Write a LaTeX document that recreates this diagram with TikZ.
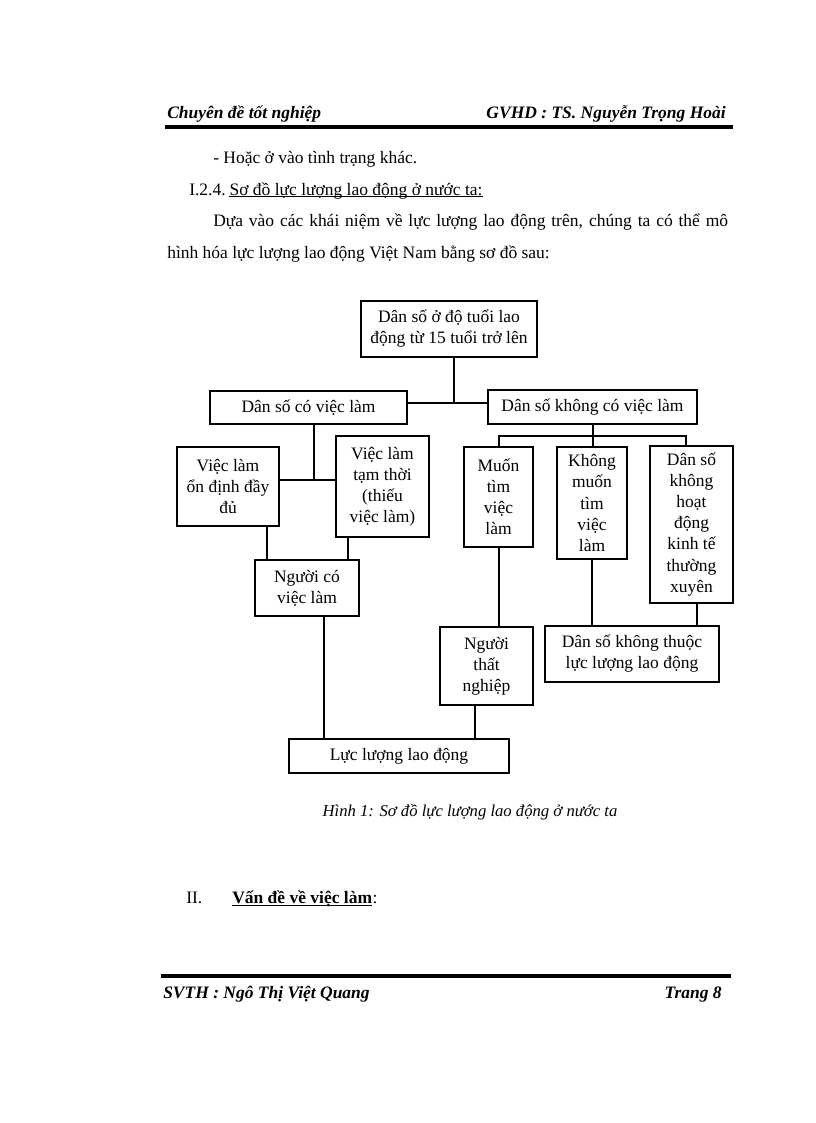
\documentclass[tikz,border=0pt]{standalone}
\usepackage{fontspec}
\setmainfont{Liberation Serif}
\def\pu{0.25735mm}
\begin{document}
\begin{tikzpicture}
[
x=0.25735mm, y=-0.25735mm,
every node/.style={inner sep=0pt},
box/.style={rectangle, draw, line width=0.4mm, align=center, font=\fontsize{12.8}{15.4}\selectfont},
link/.style={line width=0.4mm},
txt/.style={anchor=base west, font=\fontsize{12.8}{15.4}\selectfont},
rule/.style={line width=0.9mm}
]
\useasboundingbox[fill=white] (0,0) rectangle (816,1123);

%Page
\node[txt, font=\fontsize{12.8}{15.4}\selectfont\bfseries\itshape] (hd_left) at (167,119) {Chuyên đề tốt nghiệp};
\node[txt, anchor=base east, font=\fontsize{12.8}{15.4}\selectfont\bfseries\itshape] (hd_right) at (726,119) {GVHD : TS. Nguyễn Trọng Hoài};
\draw[rule] (165,127) -- (733,127);
\node[txt] (line_a) at (213,163) {- Hoặc ở vào tình trạng khác.};
\node[txt] (sec_no) at (189,195) {I.2.4.};
\node[txt] (sec_title) at ([xshift=0.25em]sec_no.base east) {Sơ đồ lực lượng lao động ở nước ta:};
\draw[line width=0.25mm] ([yshift=-0.5mm]sec_title.base west) -- ([yshift=-0.5mm]sec_title.base east);
\node[txt] (line_b) at (213,226) {\makebox[132.5mm][s]{Dựa vào các khái niệm về lực lượng lao động trên, chúng ta có thể mô}};
\node[txt] (line_c) at (167,258) {hình hóa lực lượng lao động Việt Nam bằng sơ đồ sau:};

%Nodes
\node[box, minimum width=176*\pu, minimum height=56*\pu] (dan_so)      at (449,329)   {Dân số ở độ tuổi lao\\động từ 15 tuổi trở lên};
\node[box, minimum width=197*\pu, minimum height=33*\pu] (co_vl)       at (308.5,407.5) {Dân số có việc làm};
\node[box, minimum width=209*\pu, minimum height=34*\pu] (khong_vl)    at (592.5,407) {Dân số không có việc làm};
\node[box, minimum width=102*\pu, minimum height=79*\pu] (on_dinh)     at (228,486.5) {Việc làm\\ổn định đầy\\đủ};
\node[box, minimum width=93*\pu,  minimum height=101*\pu] (tam_thoi)   at (382.5,486.5) {Việc làm\\tạm thời\\(thiếu\\việc làm)};
\node[box, minimum width=104*\pu, minimum height=56*\pu] (nguoi_co_vl) at (307,588)   {Người có\\việc làm};
\node[box, minimum width=69*\pu,  minimum height=100*\pu] (muon_tim)   at (498.5,497) {Muốn\\tìm\\việc\\làm};
\node[box, minimum width=70*\pu,  minimum height=112*\pu] (khong_muon) at (592,503)   {Không\\muốn\\tìm\\việc\\làm};
\node[box, minimum width=83*\pu,  minimum height=157*\pu] (khong_hd)   at (691.5,524.5) {Dân số\\không\\hoạt\\động\\kinh tế\\thường\\xuyên};
\node[box, minimum width=93*\pu,  minimum height=78*\pu] (that_nghiep) at (486.5,666) {Người\\thất\\nghiệp};
\node[box, minimum width=174*\pu, minimum height=56*\pu] (ngoai_lld)   at (632,654)   {Dân số không thuộc\\lực lượng lao động};
\node[box, minimum width=220*\pu, minimum height=34*\pu] (luc_luong)   at (399,756)   {Lực lượng lao động};

%Junctions
\coordinate (j_top)    at (454,403);
\coordinate (j_co)     at (314,480);
\coordinate (j_khong)  at (593,436);
\coordinate (x_on)     at (267,0);
\coordinate (x_tam)    at (348,0);
\coordinate (x_co)     at (324,0);
\coordinate (x_muon)   at (499,0);
\coordinate (x_hd)     at (686,0);
\coordinate (x_hd_b)   at (697,0);
\coordinate (x_tn)     at (475,0);

%Lines
\draw[link] (dan_so.south -| j_top) -- (j_top);
\draw[link] (co_vl.east |- j_top) -- (khong_vl.west |- j_top);
\draw[link] (co_vl.south -| j_co) -- (j_co);
\draw[link] (on_dinh.east |- j_co) -- (tam_thoi.west |- j_co);
\draw[link] (on_dinh.south -| x_on) -- (nguoi_co_vl.north -| x_on);
\draw[link] (tam_thoi.south -| x_tam) -- (nguoi_co_vl.north -| x_tam);
\draw[link] (nguoi_co_vl.south -| x_co) -- (luc_luong.north -| x_co);
\draw[link] (khong_vl.south -| j_khong) -- (j_khong);
\draw[link] (muon_tim.north -| x_muon) |- (j_khong) -| (khong_hd.north -| x_hd);
\draw[link] (j_khong) -- (khong_muon.north -| j_khong);
\draw[link] (muon_tim.south -| x_muon) -- (that_nghiep.north -| x_muon);
\draw[link] (khong_muon.south) -- (ngoai_lld.north -| khong_muon.south);
\draw[link] (khong_hd.south -| x_hd_b) -- (ngoai_lld.north -| x_hd_b);
\draw[link] (that_nghiep.south -| x_tn) -- (luc_luong.north -| x_tn);

%Caption and footer
\node[txt, anchor=base, font=\fontsize{12.2}{14.6}\selectfont\itshape] (caption) at (470,816) {Hình 1: Sơ đồ lực lượng lao động ở nước ta};
\node[txt] (sec_two) at (186,903) {II.};
\node[txt, font=\fontsize{12.8}{15.4}\selectfont\bfseries] (sec_two_t) at (232,903) {Vấn đề về việc làm};
\node[txt, anchor=base west] (sec_two_c) at (sec_two_t.base east) {:};
\draw[line width=0.3mm] ([yshift=-0.6mm]sec_two_t.base west) -- ([yshift=-0.6mm]sec_two_t.base east);
\draw[rule] (161,976) -- (731,976);
\node[txt, font=\fontsize{12.8}{15.4}\selectfont\bfseries\itshape] (ft_left) at (163,998) {SVTH : Ngô Thị Việt Quang};
\node[txt, anchor=base east, font=\fontsize{12.8}{15.4}\selectfont\bfseries\itshape] (ft_right) at (722,998) {Trang 8};
\end{tikzpicture}
\end{document}
